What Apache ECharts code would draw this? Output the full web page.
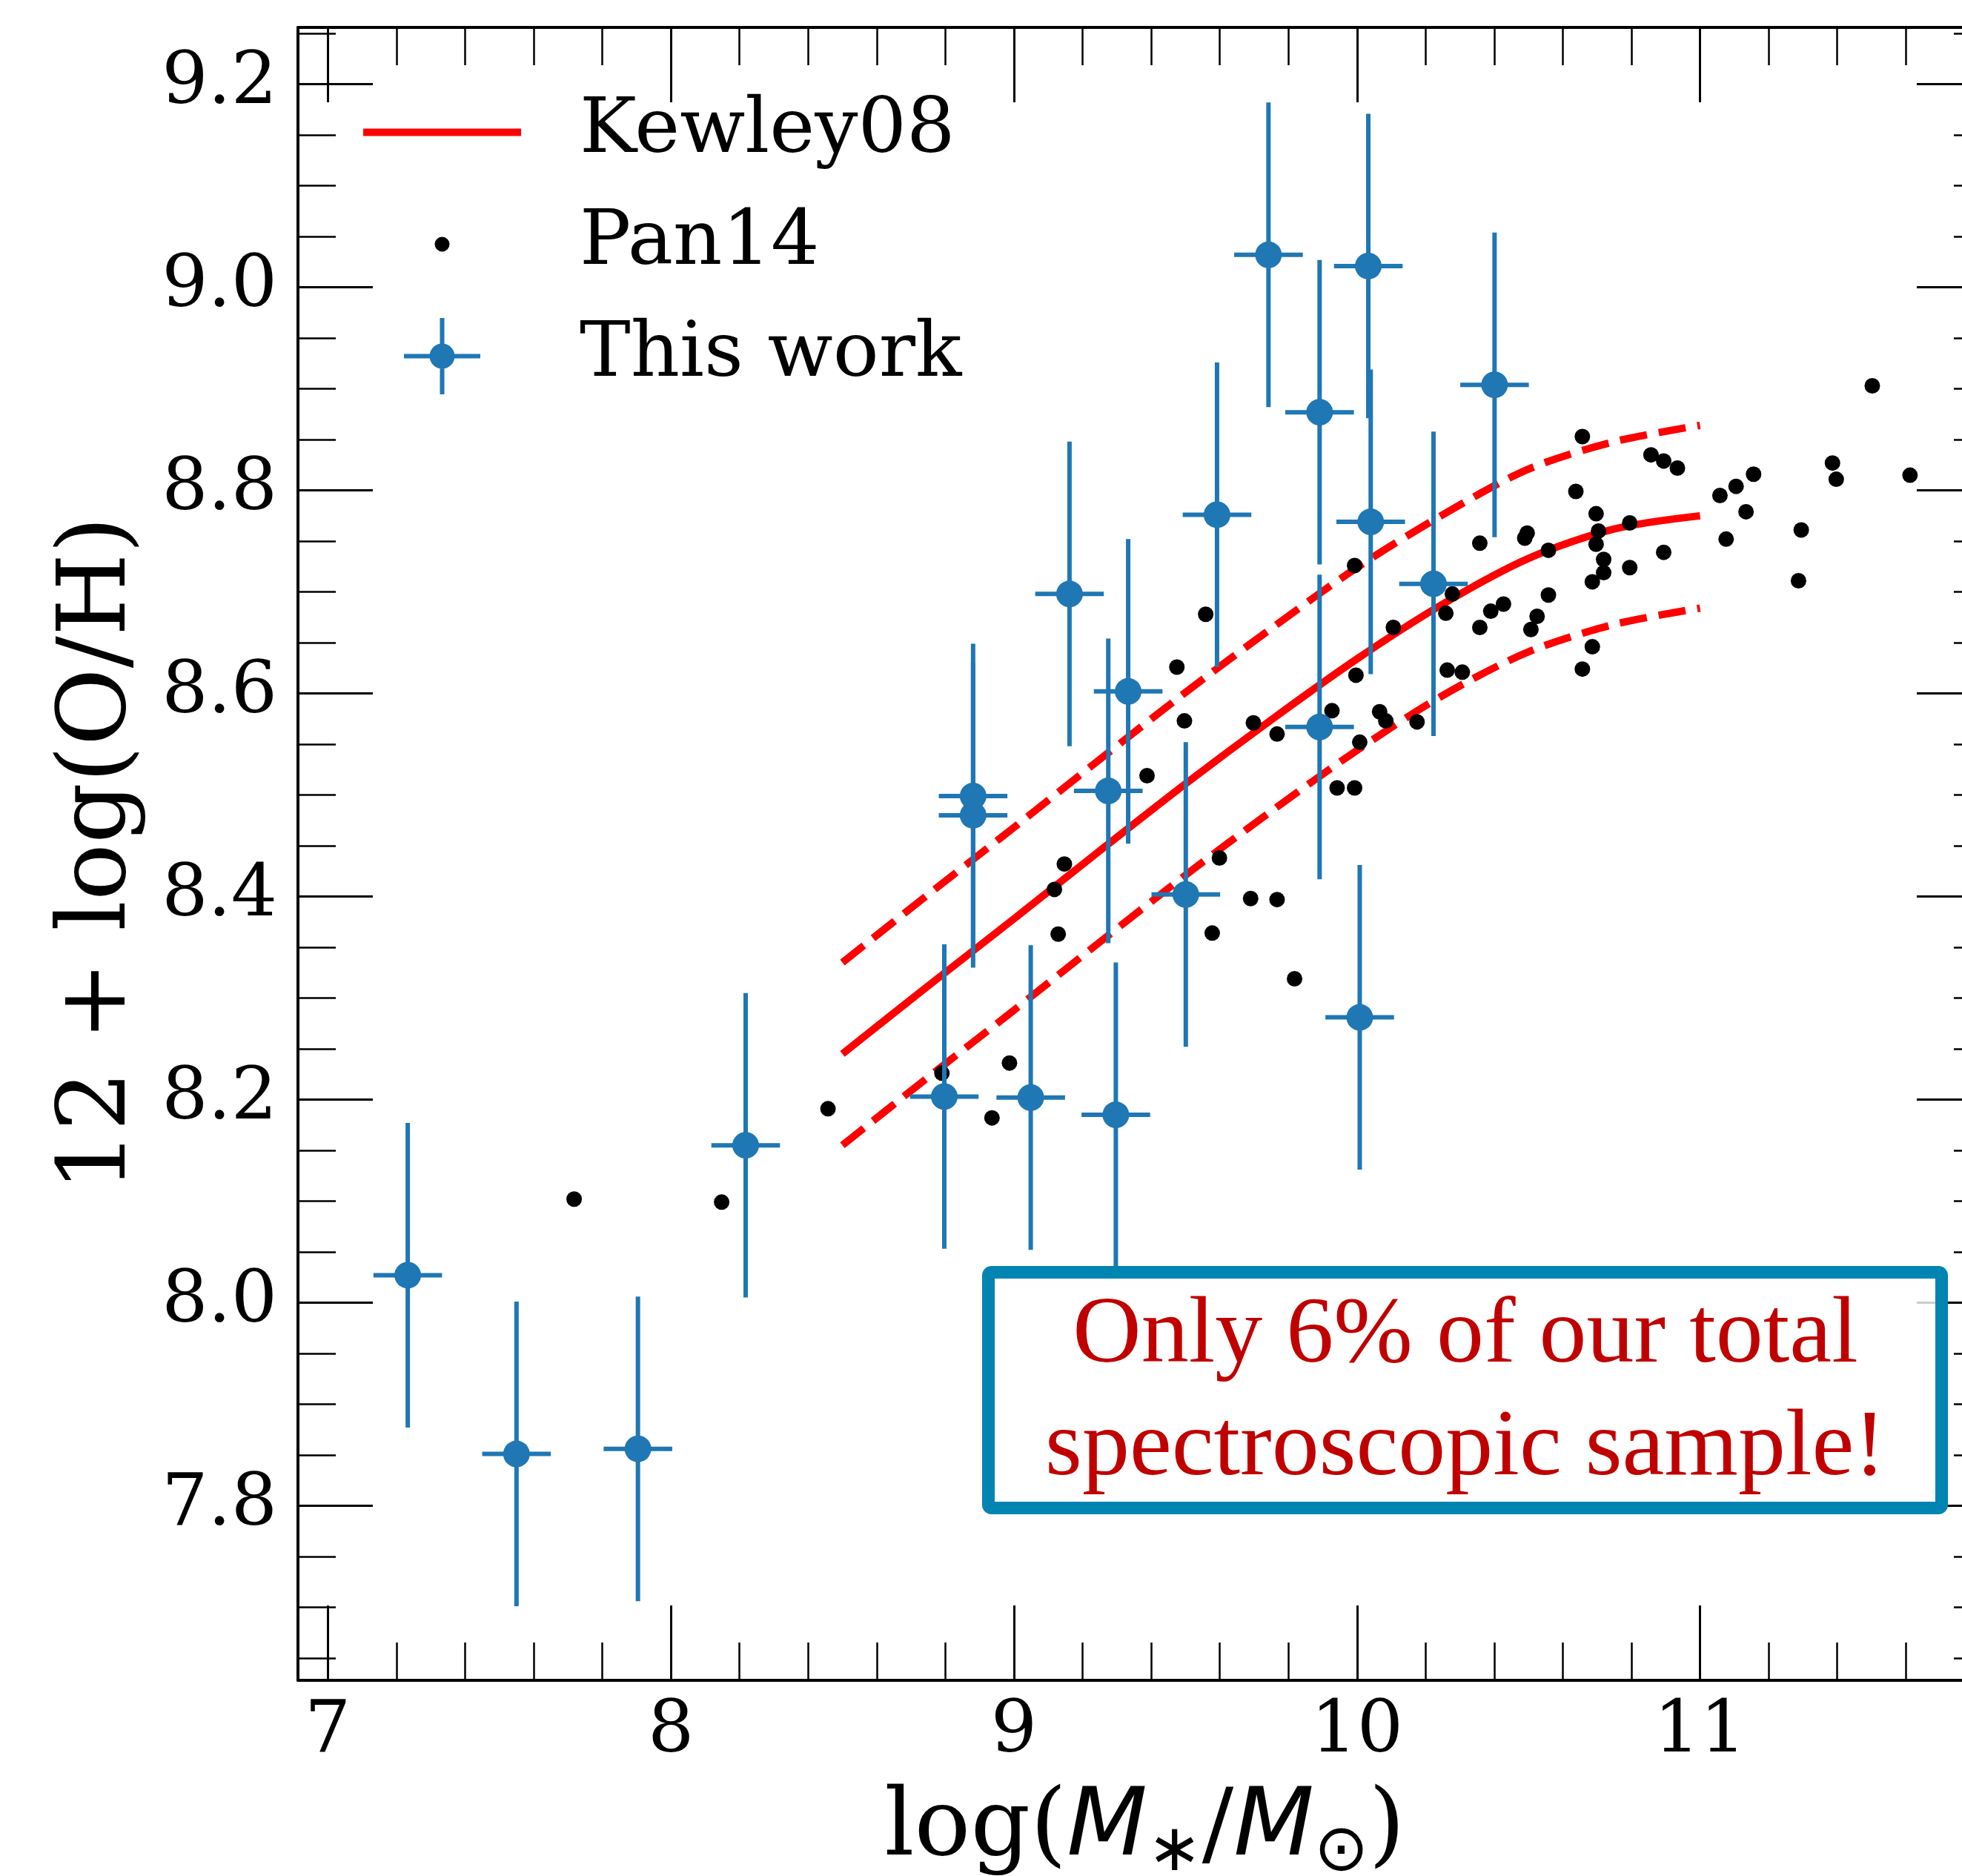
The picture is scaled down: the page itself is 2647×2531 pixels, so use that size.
<!DOCTYPE html>
<html>
<head>
<meta charset="utf-8">
<script src="https://cdn.jsdelivr.net/npm/echarts@6/dist/echarts.min.js"></script>
<style>
html,body{margin:0;padding:0;background:#fff;}
#chart{width:2647px;height:2531px;}
</style>
</head>
<body>
<div id="chart"></div>
<script>
// ---------------- data ----------------
// Kewley08 relation
const kewleyX     = [8.5, 8.75, 9.0, 9.25, 9.5, 9.75, 10.0, 10.25, 10.5, 10.75, 11.0];
const kewleyMid   = [8.245, 8.312, 8.378, 8.445, 8.511, 8.574, 8.634, 8.688, 8.733, 8.762, 8.775];
const kewleyUpper = [8.335, 8.402, 8.468, 8.535, 8.601, 8.664, 8.724, 8.776, 8.821, 8.848, 8.864];
const kewleyLower = [8.155, 8.222, 8.288, 8.355, 8.421, 8.484, 8.544, 8.598, 8.641, 8.668, 8.684];

// Pan14 points
const panX = [8.458, 7.718, 8.148, 8.790, 8.987, 8.936, 9.118, 9.147, 9.129, 9.388,
              9.475, 9.497, 9.559, 9.599, 9.578, 9.690, 9.767, 9.818, 9.698, 9.767,
              9.927, 9.942, 9.993, 9.997, 9.993, 10.008, 10.066, 10.084, 10.106, 10.175,
              10.259, 10.278, 10.263, 10.307, 10.358, 10.358, 10.390, 10.427, 10.489, 10.496,
              10.507, 10.525, 10.558, 10.558, 10.638, 10.657, 10.657, 10.686, 10.686, 10.697,
              10.697, 10.704, 10.719, 10.719, 10.795, 10.795, 10.857, 10.894, 10.934, 10.894,
              11.058, 11.105, 11.156, 11.134, 11.076, 11.287, 11.295, 11.386, 11.397, 11.502,
              11.612];
const panY = [8.191, 8.102, 8.099, 8.226, 8.236, 8.182, 8.407, 8.432, 8.363, 8.519,
              8.626, 8.573, 8.678, 8.438, 8.364, 8.398, 8.397, 8.319, 8.571, 8.560,
              8.583, 8.507, 8.507, 8.618, 8.726, 8.552, 8.582, 8.573, 8.665, 8.572,
              8.679, 8.698, 8.623, 8.621, 8.748, 8.665, 8.681, 8.688, 8.753, 8.758,
              8.663, 8.676, 8.741, 8.697, 8.799, 8.853, 8.624, 8.646, 8.710, 8.777,
              8.747, 8.760, 8.732, 8.719, 8.768, 8.724, 8.835, 8.829, 8.822, 8.739,
              8.795, 8.804, 8.816, 8.779, 8.752, 8.711, 8.761, 8.827, 8.811, 8.903,
              8.815];

// This work (with errors)
const workX    = [7.233, 7.550, 7.904, 8.218, 8.797, 8.881, 8.881, 9.049, 9.162, 9.275, 9.297,
                  9.333, 9.501, 9.592, 9.742, 9.891, 9.891, 10.008, 10.033, 10.040, 10.223, 10.401];
const workY    = [8.027, 7.851, 7.856, 8.155, 8.203, 8.499, 8.480, 8.202, 8.698, 8.504, 8.185,
                  8.602, 8.402, 8.776, 9.032, 8.877, 8.567, 8.281, 9.021, 8.769, 8.708, 8.904];
const workXerr = [0.1, 0.1, 0.1, 0.1, 0.1, 0.1, 0.1, 0.1, 0.1, 0.1, 0.1,
                  0.1, 0.1, 0.1, 0.1, 0.1, 0.1, 0.1, 0.1, 0.1, 0.1, 0.1];
const workYerr = [0.15, 0.15, 0.15, 0.15, 0.15, 0.15, 0.15, 0.15, 0.15, 0.15, 0.15,
                  0.15, 0.15, 0.15, 0.15, 0.15, 0.15, 0.15, 0.15, 0.15, 0.15, 0.15];

// ticks
const xMajor = [7, 8, 9, 10, 11];
const xMinor = [7.2, 7.4, 7.6, 7.8, 8.2, 8.4, 8.6, 8.8, 9.2, 9.4, 9.6, 9.8,
                10.2, 10.4, 10.6, 10.8, 11.2, 11.4, 11.6, 11.8];
const yMajor = [7.8, 8.0, 8.2, 8.4, 8.6, 8.8, 9.0, 9.2];
const yMinor = [7.65, 7.7, 7.75, 7.85, 7.9, 7.95, 8.05, 8.1, 8.15, 8.25, 8.3, 8.35,
                8.45, 8.5, 8.55, 8.65, 8.7, 8.75, 8.85, 8.9, 8.95, 9.05, 9.1, 9.15, 9.25];

const xRange = [6.913, 11.85];
const yRange = [7.628, 9.256];

// ---------------- chart ----------------
const chart = echarts.init(document.getElementById('chart'), null, {renderer: 'canvas'});

const zip = (a, b) => a.map((v, i) => [v, b[i]]);
const BLUE = '#1f77b4';
const serif = 'DejaVu Serif';

function majorAxis(kind, gridIndex, position, showLabel) {
  const isX = kind === 'x';
  return {
    type: 'value', gridIndex, position,
    min: isX ? xRange[0] : yRange[0],
    max: isX ? xRange[1] : yRange[1],
    axisLine: {show: true, lineStyle: {color: '#000', width: 4}},
    axisTick: {show: true, inside: true, length: 101, customValues: isX ? xMajor : yMajor,
               lineStyle: {color: '#000', width: 3}},
    axisLabel: {show: showLabel, customValues: isX ? xMajor : yMajor,
                margin: isX ? 22 : 28, fontFamily: serif, fontSize: 98, color: '#000',
                formatter: v => isX ? String(Math.round(v)) : Number(v).toFixed(1)},
    splitLine: {show: false}
  };
}
function minorAxis(kind, gridIndex, position) {
  const isX = kind === 'x';
  return {
    type: 'value', gridIndex, position,
    min: isX ? xRange[0] : yRange[0],
    max: isX ? xRange[1] : yRange[1],
    axisLine: {show: false},
    axisTick: {show: true, inside: true, length: 51, customValues: isX ? xMinor : yMinor,
               lineStyle: {color: '#000', width: 2.5}},
    axisLabel: {show: false},
    splitLine: {show: false}
  };
}

const xBottom = majorAxis('x', 0, 'bottom', true);
xBottom.name = '{r|log(}{i|M}{s|∗}{r|/}{i|M}{s|⊙}{r|)}';
xBottom.nameLocation = 'middle';
xBottom.nameGap = 127;
xBottom.nameTextStyle = {
  fontFamily: serif, fontSize: 126, color: '#000',
  rich: {
    r: {fontFamily: serif, fontSize: 126, lineHeight: 150, color: '#000'},
    i: {fontFamily: 'DejaVu Sans', fontStyle: 'italic', fontSize: 126, lineHeight: 150, color: '#000'},
    s: {fontFamily: 'DejaVu Sans', fontSize: 88, lineHeight: 88, verticalAlign: 'bottom', color: '#000'}
  }
};
const yLeft = majorAxis('y', 0, 'left', true);
yLeft.name = '12 + log(O/H)';
yLeft.nameLocation = 'middle';
yLeft.nameGap = 203;
yLeft.nameTextStyle = {fontFamily: serif, fontSize: 128, color: '#000'};

// legend icons (box 213 x 103)
const iconLine  = 'path://M0 0L0 0ZM213 103L213 103ZM0 46.5L213 46.5L213 56.5L0 56.5Z';
const iconDot   = 'path://M0 0L0 0ZM213 103L213 103ZM96.5 51.5A10 10 0 1 1 116.5 51.5A10 10 0 1 1 96.5 51.5Z';
const iconCross = 'path://M0 0L0 0ZM213 103L213 103ZM55 48.5L158 48.5L158 54.5L55 54.5ZM103.5 0L109.5 0L109.5 103L103.5 103ZM89.5 51.5A17 17 0 1 1 123.5 51.5A17 17 0 1 1 89.5 51.5Z';

const gridBox = {left: 402, top: 37, right: -40, bottom: 264, containLabel: false, outerBoundsMode: 'none'};

const option = {
  animation: false,
  backgroundColor: '#fff',
  grid: [Object.assign({}, gridBox), Object.assign({}, gridBox)],
  xAxis: [
    xBottom,
    majorAxis('x', 0, 'top', false),
    minorAxis('x', 1, 'bottom'),
    minorAxis('x', 1, 'top')
  ],
  yAxis: [
    yLeft,
    majorAxis('y', 0, 'right', false),
    minorAxis('y', 1, 'left'),
    minorAxis('y', 1, 'right')
  ],
  legend: {
    orient: 'vertical', left: 490, top: 127, padding: 0,
    itemWidth: 213, itemHeight: 103, itemGap: 48,
    selectedMode: false,
    textStyle: {fontFamily: serif, fontSize: 103, color: '#000', padding: [0, 0, 0, 74]},
    data: [
      {name: 'Kewley08', icon: iconLine, itemStyle: {color: '#ff0000', borderWidth: 0, opacity: 1}},
      {name: 'Pan14', icon: iconDot, itemStyle: {color: '#000', borderWidth: 0, opacity: 1}},
      {name: 'This work', icon: iconCross, itemStyle: {color: BLUE, borderWidth: 0, opacity: 1}}
    ]
  },
  series: [
    {
      name: 'Kewley08', type: 'line', xAxisIndex: 0, yAxisIndex: 0,
      data: zip(kewleyX, kewleyMid), smooth: 0.3, showSymbol: false, symbol: 'none',
      lineStyle: {color: '#ff0000', width: 10}, itemStyle: {color: '#ff0000'}, z: 2
    },
    {
      name: 'Kewley08 upper', type: 'line', xAxisIndex: 0, yAxisIndex: 0,
      data: zip(kewleyX, kewleyUpper), smooth: 0.3, showSymbol: false, symbol: 'none',
      lineStyle: {color: '#ff0000', width: 10, type: [37, 16]}, z: 2
    },
    {
      name: 'Kewley08 lower', type: 'line', xAxisIndex: 0, yAxisIndex: 0,
      data: zip(kewleyX, kewleyLower), smooth: 0.3, showSymbol: false, symbol: 'none',
      lineStyle: {color: '#ff0000', width: 10, type: [37, 16]}, z: 2
    },
    {
      name: 'Pan14', type: 'scatter', xAxisIndex: 0, yAxisIndex: 0,
      data: zip(panX, panY), symbol: 'circle', symbolSize: 21,
      itemStyle: {color: '#000', opacity: 1}, z: 3
    },
    {
      name: 'This work', type: 'custom', xAxisIndex: 0, yAxisIndex: 0,
      data: workX.map((x, i) => [x, workY[i], workXerr[i], workYerr[i]]),
      encode: {x: 0, y: 1},
      renderItem: function (params, api) {
        const x = api.value(0), y = api.value(1), xe = api.value(2), ye = api.value(3);
        const t = api.coord([x, y + ye]), b = api.coord([x, y - ye]);
        const l = api.coord([x - xe, y]), r = api.coord([x + xe, y]);
        const style = {stroke: BLUE, lineWidth: 6};
        return {
          type: 'group',
          children: [
            {type: 'line', shape: {x1: t[0], y1: t[1], x2: b[0], y2: b[1]}, style: style},
            {type: 'line', shape: {x1: l[0], y1: l[1], x2: r[0], y2: r[1]}, style: style}
          ]
        };
      },
      z: 4
    },
    {
      name: 'This work', type: 'scatter', xAxisIndex: 0, yAxisIndex: 0,
      data: zip(workX, workY), symbol: 'circle', symbolSize: 36,
      itemStyle: {color: BLUE, opacity: 1}, z: 5
    }
  ],
  graphic: [
    {
      type: 'rect', z: 100,
      shape: {x: 1333.5, y: 1716.5, width: 1286, height: 318, r: 4},
      style: {fill: 'rgba(255,255,255,0.8)', stroke: '#0085b2', lineWidth: 17}
    },
    {
      type: 'text', z: 101,
      style: {text: 'Only 6% of our total', x: 1977, y: 1803, textAlign: 'center', textVerticalAlign: 'middle',
              fontFamily: 'Liberation Serif', fontSize: 128, fill: '#c00000'}
    },
    {
      type: 'text', z: 101,
      style: {text: 'spectroscopic sample!', x: 1977, y: 1955, textAlign: 'center', textVerticalAlign: 'middle',
              fontFamily: 'Liberation Serif', fontSize: 128, fill: '#c00000'}
    }
  ]
};

chart.setOption(option);
</script>
</body>
</html>
